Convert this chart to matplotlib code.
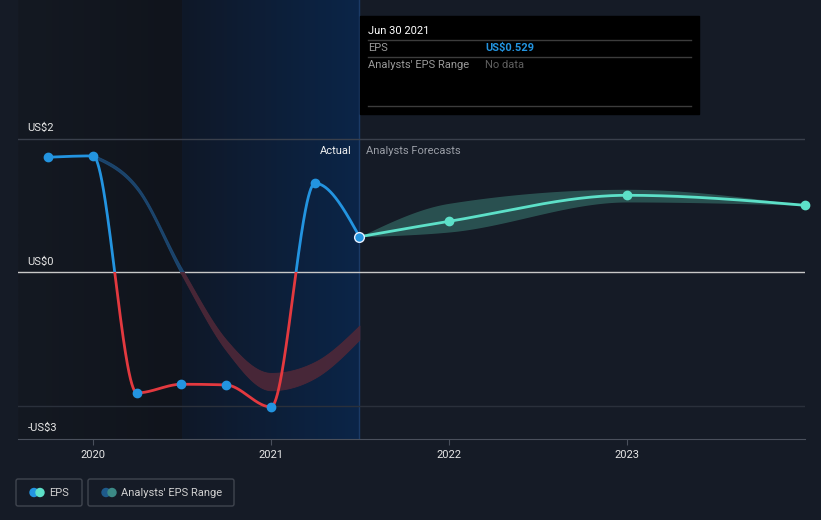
import numpy as np
import matplotlib
matplotlib.use("Agg")
import matplotlib.pyplot as plt
from matplotlib.patches import Rectangle, FancyBboxPatch, Circle

plt.rcParams['font.family'] = ['Roboto', 'DejaVu Sans']

# ---------------- data ----------------
eps_dates = [2019.747, 2020.0, 2020.247, 2020.497, 2020.747, 2021.0, 2021.247, 2021.497]
eps_values = [1.72, 1.74, -1.81, -1.68, -1.69, -2.02, 1.33, 0.529]

fc_dates = [2021.497, 2022.0, 2023.0, 2024.0]
fc_values = [0.529, 0.76, 1.15, 1.0]
fc_low = [0.529, 0.60, 1.05, 1.0]
fc_high = [0.529, 1.03, 1.24, 1.0]

past_dates = [2020.0, 2020.25, 2020.5, 2020.75, 2021.0, 2021.25, 2021.497]
past_low = [1.72, 1.22, -0.05, -1.18, -1.77, -1.58, -1.01]
past_high = [1.76, 1.28, 0.05, -1.02, -1.51, -1.34, -0.80]

year_ticks = [2020, 2021, 2022, 2023]
year_labels = ["2020", "2021", "2022", "2023"]
y_label_vals = [2, 0, -2.5]
y_labels = ["US$2", "US$0", "-US$3"]

BG = "#151b26"
BLUE = "#2394e0"
RED = "#e3393f"
AQUA = "#5de0c8"


def monotone(x, y, n=300):
    x = np.asarray(x, float); y = np.asarray(y, float)
    h = np.diff(x); s = np.diff(y) / h
    m = np.zeros_like(y)
    for k in range(1, len(x) - 1):
        s0, s1, h0, h1 = s[k - 1], s[k], h[k - 1], h[k]
        p = (s0 * h1 + s1 * h0) / (h0 + h1)
        m[k] = (np.sign(s0) + np.sign(s1)) * min(abs(s0), abs(s1), 0.5 * abs(p))
    m[0] = (3 * s[0] - m[1]) / 2 if len(x) > 2 else s[0]
    m[-1] = (3 * s[-1] - m[-2]) / 2 if len(x) > 2 else s[-1]
    xs, ys = [], []
    for k in range(len(x) - 1):
        t = np.linspace(0, 1, n)
        h00 = 2 * t**3 - 3 * t**2 + 1
        h10 = t**3 - 2 * t**2 + t
        h01 = -2 * t**3 + 3 * t**2
        h11 = t**3 - t**2
        xs.append(x[k] + t * h[k])
        ys.append(h00 * y[k] + h10 * h[k] * m[k] + h01 * y[k + 1] + h11 * h[k] * m[k + 1])
    return np.concatenate(xs), np.concatenate(ys)


W, H = 821, 520
fig = plt.figure(figsize=(W / 100, H / 100), dpi=100, facecolor=BG)
L, R, T, B = 18, 805, 0, 439
ax = fig.add_axes([L / W, 1 - B / H, (R - L) / W, (B - T) / H])
ax.set_facecolor(BG)
x0 = 2020 - 75 / 178.0
ax.set_xlim(x0, 2024.0)
ymin, ymax = -2.5, 272 / 66.75
ax.set_ylim(ymin, ymax)

# background regions
ax.imshow(np.linspace(0, 1, 64).reshape(1, -1), extent=[x0, 2020.5, ymin, ymax], aspect='auto',
          cmap=matplotlib.colors.LinearSegmentedColormap.from_list('d', ['#141922', '#10141c']), zorder=0)
ax.imshow(np.linspace(0, 1, 64).reshape(1, -1), extent=[2020.5, 2021.497, ymin, ymax], aspect='auto',
          cmap=matplotlib.colors.LinearSegmentedColormap.from_list('b', ['#0f1828', '#0b2548']), zorder=0)
ax.axvline(2021.497, color='#1b3a66', lw=1.0, zorder=1)

# gridlines
ax.axhline(2, color='#3a404c', lw=1, zorder=1)
ax.axhline(-2, color='#2a303b', lw=1, zorder=1)
ax.axhline(0, color='#c8c8c8', lw=1, zorder=2)

# past range band
px, plo = monotone(past_dates, past_low)
_, phi = monotone(past_dates, past_high)
for clip_lo, clip_hi, col, a in [(0, ymax, '#1f5282', 0.75), (ymin, 0, '#4e2838', 0.9)]:
    pc = ax.fill_between(px, plo, phi, color=col, alpha=a, lw=0.6, edgecolor=col, zorder=2)
    pc.set_clip_path(Rectangle((x0, clip_lo), 5, clip_hi - clip_lo, transform=ax.transData))

# forecast band
fx, flo = monotone(fc_dates, fc_low)
_, fhi = monotone(fc_dates, fc_high)
ax.fill_between(fx, flo, fhi, color='#2c5755', alpha=0.9, lw=0, zorder=3)

# EPS line
ex, ey = monotone(eps_dates, eps_values)
for clip_lo, clip_hi, col in [(0, ymax, BLUE), (ymin, 0, RED)]:
    ln, = ax.plot(ex, ey, color=col, lw=2.0, zorder=4, solid_capstyle='round')
    ln.set_clip_path(Rectangle((x0, clip_lo), 5, clip_hi - clip_lo, transform=ax.transData))
ax.plot(eps_dates[:-1], eps_values[:-1], 'o', color=BLUE, ms=6, zorder=5)

# forecast line
fxl, fyl = monotone(fc_dates, fc_values)
ax.plot(fxl, fyl, color=AQUA, lw=2.0, zorder=4)
ax.plot(fc_dates[1:], fc_values[1:], 'o', color=AQUA, ms=6, zorder=5, clip_on=False)
ax.plot(eps_dates[-1:], eps_values[-1:], 'o', color=BLUE, ms=7, mec='#e8f0ff', mew=1, zorder=6)

# axes styling
for s in ['top', 'right', 'left']:
    ax.spines[s].set_visible(False)
ax.spines['bottom'].set_color('#4a505c')
ax.set_yticks([])
ax.set_xticks(year_ticks)
ax.set_xticklabels(year_labels)
ax.tick_params(axis='x', colors='#4a505c', labelcolor='#e6e6e6', labelsize=8, length=4, pad=4)

for v, lab in zip(y_label_vals, y_labels):
    ax.annotate(lab, xy=(x0, v), xytext=(7, 4), textcoords='offset points',
                color='#e6e6e6', fontsize=8, va='bottom', ha='left', zorder=7)

ax.annotate("Actual", xy=(2021.497, ymax), xytext=(-8, -151), textcoords='offset pixels',
            color='#f0f0f0', fontsize=8, ha='right', va='center')
ax.annotate("Analysts Forecasts", xy=(2021.497, ymax), xytext=(7, -151), textcoords='offset pixels',
            color='#9a9ea6', fontsize=8, ha='left', va='center')

# overlay axes in pixel coordinates
ov = fig.add_axes([0, 0, 1, 1])
ov.set_xlim(0, W); ov.set_ylim(H, 0); ov.axis('off')
ov.add_patch(Rectangle((360, 16), 339, 98, color='black', zorder=10))
ov.text(368, 31, "Jun 30 2021", color='white', fontsize=8, va='center', zorder=11)
for yy in (40, 57, 106):
    ov.plot([368, 691], [yy, yy], color='#3c3c3c', lw=1, zorder=11)
ov.text(368, 48, "EPS", color='#9a9a9a', fontsize=8, va='center', zorder=11)
ov.text(485, 48, "US$0.529", color=BLUE, fontsize=8, va='center', fontweight='bold', zorder=11)
ov.text(368, 65, "Analysts' EPS Range", color='#9a9a9a', fontsize=8, va='center', zorder=11)
ov.text(485, 65, "No data", color='#5f5f5f', fontsize=8, va='center', zorder=11)

# legend
for (bx, bw) in [(16, 66), (88, 146)]:
    ov.add_patch(FancyBboxPatch((bx, 479), bw, 27, boxstyle='round,pad=0,rounding_size=2',
                                fc='none', ec='#40454f', lw=1))
ov.add_patch(Circle((34, 492.5), 4, color=BLUE))
ov.add_patch(Circle((40, 492.5), 4, color=AQUA))
ov.text(49, 492.5, "EPS", color='#d0d0d0', fontsize=8, va='center')
ov.add_patch(Circle((106, 492.5), 4, color='#1e5a8a'))
ov.add_patch(Circle((112, 492.5), 4, color='#3c8a86'))
ov.text(121, 492.5, "Analysts' EPS Range", color='#d0d0d0', fontsize=8, va='center')

fig.savefig("out.png", dpi=100, facecolor=BG)
